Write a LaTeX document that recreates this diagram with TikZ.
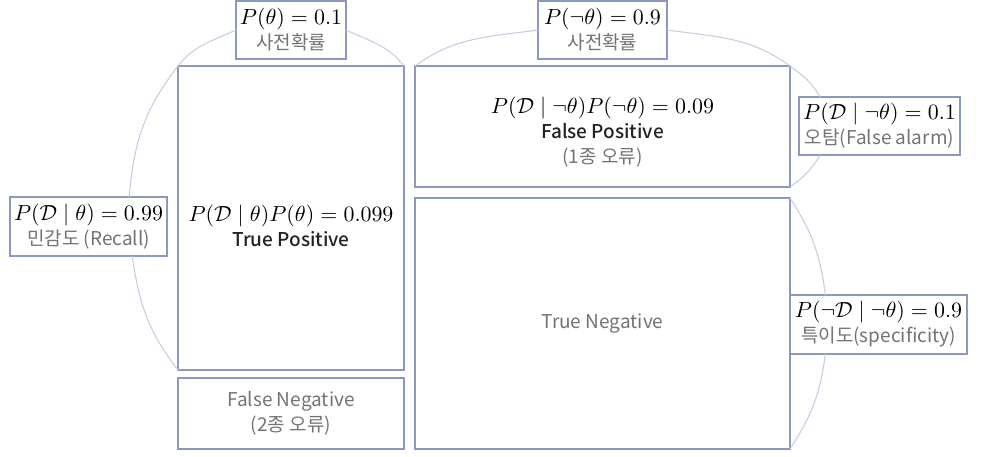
\documentclass[tikz,border=0pt]{standalone}
\usepackage{fontspec}
\newfontfamily\krfont{Noto Sans CJK KR}[BoldFont={Noto Sans CJK KR Medium}]
\usetikzlibrary{positioning,calc}

\definecolor{boxblue}{RGB}{140,152,190}
\definecolor{arcblue}{RGB}{200,205,228}
\definecolor{subgray}{RGB}{115,115,115}
\definecolor{darktext}{RGB}{35,35,35}

\tikzset{
  cell/.style={draw=boxblue,line width=0.8pt,fill=white,inner sep=0pt,outer sep=0pt,align=center,
    font=\fontsize{10.5}{12.5}\selectfont},
  arcline/.style={draw=arcblue,line width=0.55pt},
}
\newcommand{\krsub}[1]{{\krfont\fontsize{9.5}{12.5}\selectfont\color{subgray}#1}}
\newcommand{\krbold}[1]{{\krfont\bfseries\fontsize{9.5}{12.5}\selectfont\color{darktext}#1}}
\newcommand{\pushdown}[1]{\rule{0pt}{#1}}

\begin{document}
\begin{tikzpicture}[x=0.5pt,y=0.5pt]
  \useasboundingbox (0,0) rectangle (984,456);
  % four cells
  \node[cell,minimum width=113pt,minimum height=152pt] (tp) at (291,238)
    {\pushdown{16pt}$P(\mathcal{D}\mid\theta)P(\theta)=0.099$\\\krbold{True Positive}};
  \node[cell,minimum width=113pt,minimum height=35.5pt] (fn) at (291,42.5)
    {\krsub{False Negative}\\\krsub{(2종 오류)}};
  \node[cell,minimum width=187.5pt,minimum height=60.5pt] (fp) at (602.5,329.5)
    {\pushdown{14pt}$P(\mathcal{D}\mid\neg\theta)P(\neg\theta)=0.09$\\\krbold{False Positive}\\\krsub{(1종 오류)}};
  \node[cell,minimum width=187.5pt,minimum height=125.5pt] (tn) at (602.5,132.5)
    {\krsub{True Negative}};
  % labels on the arcs
  \node[cell,minimum width=55pt,minimum height=29pt] (ptheta) at (291,426)
    {$P(\theta)=0.1$\\\krsub{사전확률}};
  \node[cell,minimum width=64.5pt,minimum height=29pt] (pnot) at (602.5,426)
    {$P(\neg\theta)=0.9$\\\krsub{사전확률}};
  \node[cell,minimum width=78.5pt,minimum height=29.5pt] (recall) at (88.5,229.5)
    {$P(\mathcal{D}\mid\theta)=0.99$\\\krsub{민감도 (Recall)}};
  \node[cell,minimum width=80.5pt,minimum height=29pt] (alarm) at (879.5,330)
    {$P(\mathcal{D}\mid\neg\theta)=0.1$\\\krsub{오탐(False alarm)}};
  \node[cell,minimum width=88.5pt,minimum height=29.5pt] (spec) at (878.5,131.5)
    {$P(\neg\mathcal{D}\mid\neg\theta)=0.9$\\\krsub{특이도(specificity)}};
  % arcs round the cells
  \draw[arcline] (tp.north west) to[out=52,in=205] (ptheta.west);
  \draw[arcline] (ptheta.east) to[out=-25,in=128] (tp.north east);
  \draw[arcline] (tp.north west) to[out=232,in=85] (recall.36);
  \draw[arcline] (recall.-34) to[out=278,in=128] (tp.south west);
  \draw[arcline] (fp.north west) to[out=36,in=188] (pnot.west);
  \draw[arcline] (pnot.east) to[out=-8,in=144] (fp.north east);
  \draw[arcline] (fp.north east) to[out=-36,in=120] (alarm.154);
  \draw[arcline] (alarm.206) to[out=240,in=36] (fp.south east);
  \draw[arcline] (tn.north east) to[out=-57,in=97] (spec.151);
  \draw[arcline] (spec.209) to[out=263,in=57] (tn.south east);
\end{tikzpicture}
\end{document}
